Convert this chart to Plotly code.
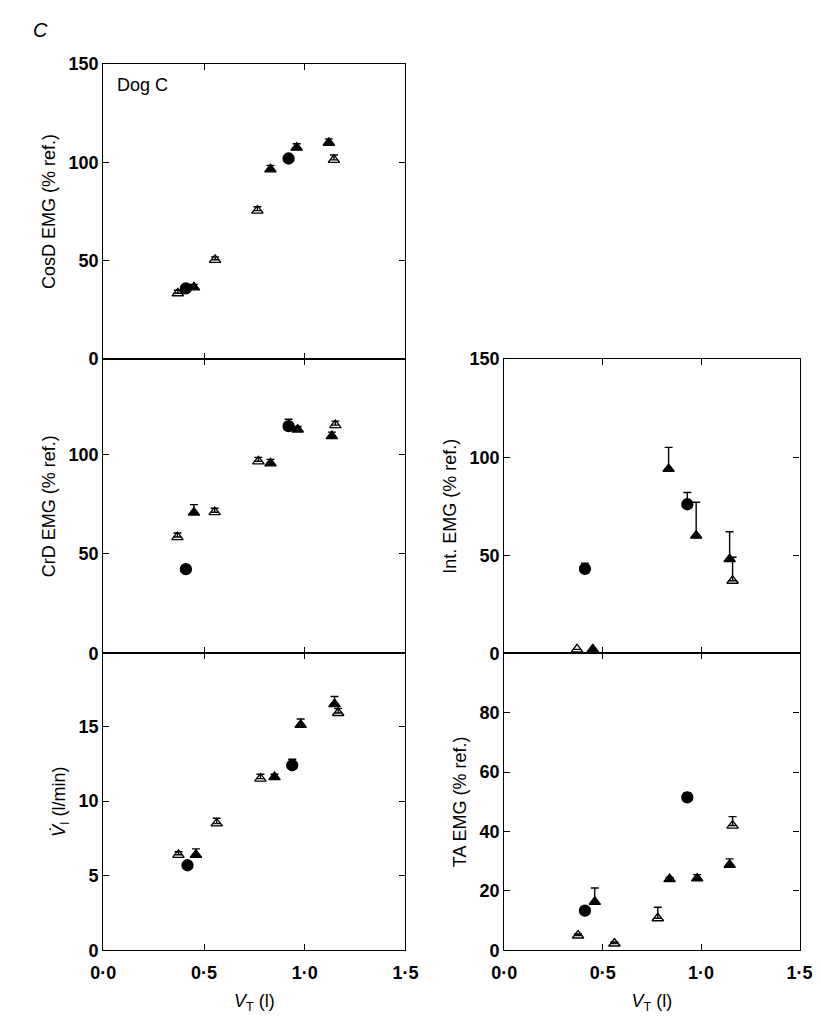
import plotly.graph_objects as go

# x = tidal volume VT (l); open triangles, filled triangles, filled circles
# each panel: (x, y, upper error)
cosd_open_x = [0.37, 0.555, 0.765, 1.145]
cosd_open_y = [33.5, 50.5, 75.5, 101.3]
cosd_open_e = [1.5, 1.5, 2.0, 2.5]
cosd_fill_x = [0.45, 0.83, 0.96, 1.12]
cosd_fill_y = [36.5, 96.5, 107.5, 110.0]
cosd_fill_e = [1.5, 2.0, 2.0, 2.0]
cosd_circ_x = [0.41, 0.92]
cosd_circ_y = [36.0, 102.0]
cosd_circ_e = [0, 0]

crd_open_x = [0.368, 0.553, 0.77, 1.152]
crd_open_y = [58.5, 71.0, 96.6, 114.8]
crd_open_e = [2.0, 2.0, 2.0, 2.0]
crd_fill_x = [0.45, 0.83, 0.965, 1.135]
crd_fill_y = [70.8, 95.6, 112.6, 109.3]
crd_fill_e = [4.0, 2.0, 1.5, 2.0]
crd_circ_x = [0.41, 0.92]
crd_circ_y = [42.3, 114.3]
crd_circ_e = [0, 3.5]

vi_open_x = [0.373, 0.563, 0.78, 1.166]
vi_open_y = [6.4, 8.5, 11.5, 15.9]
vi_open_e = [0.2, 0.35, 0.3, 0.3]
vi_fill_x = [0.46, 0.85, 0.98, 1.148]
vi_fill_y = [6.4, 11.6, 15.1, 16.5]
vi_fill_e = [0.4, 0.2, 0.4, 0.5]
vi_circ_x = [0.418, 0.938]
vi_circ_y = [5.7, 12.4]
vi_circ_e = [0, 0.4]

int_open_x = [0.37, 1.16]
int_open_y = [2.0, 37.0]
int_open_e = [0, 12.0]
int_fill_x = [0.45, 0.835, 0.975, 1.145]
int_fill_y = [2.0, 94.0, 60.0, 48.0]
int_fill_e = [0, 11.0, 17.0, 14.0]
int_circ_x = [0.41, 0.93]
int_circ_y = [43.0, 76.0]
int_circ_e = [3.0, 6.0]

ta_open_x = [0.375, 0.56, 0.78, 1.16]
ta_open_y = [5.0, 2.3, 10.8, 42.0]
ta_open_e = [0.5, 0.5, 3.7, 3.0]
ta_fill_x = [0.46, 0.84, 0.98, 1.145]
ta_fill_y = [16.3, 24.0, 24.2, 28.8]
ta_fill_e = [4.7, 0.5, 1.3, 2.0]
ta_circ_x = [0.41, 0.93]
ta_circ_y = [13.4, 51.5]
ta_circ_e = [0, 1.5]

x_ticks = [0, 0.5, 1.0, 1.5]
x_labels = ["<b>0·0</b>", "<b>0·5</b>", "<b>1·0</b>", "<b>1·5</b>"]

FONT = "Liberation Sans"
fig = go.Figure()

def add_set(xs, ys, es, symbol, ax):
    fig.add_trace(go.Scatter(
        x=xs, y=ys, mode="markers", xaxis=ax[0], yaxis=ax[1], showlegend=False,
        marker=dict(symbol=symbol, size=11 if "circle" in symbol else 10, color="black",
                    line=dict(color="black", width=1.3)),
        error_y=dict(type="data", symmetric=False, array=es, arrayminus=[0] * len(es),
                     color="black", thickness=1.4, width=4)))

panels = [
    (("x", "y"), cosd_open_x, cosd_open_y, cosd_open_e, cosd_fill_x, cosd_fill_y, cosd_fill_e,
     cosd_circ_x, cosd_circ_y, cosd_circ_e),
    (("x2", "y2"), crd_open_x, crd_open_y, crd_open_e, crd_fill_x, crd_fill_y, crd_fill_e,
     crd_circ_x, crd_circ_y, crd_circ_e),
    (("x3", "y3"), vi_open_x, vi_open_y, vi_open_e, vi_fill_x, vi_fill_y, vi_fill_e,
     vi_circ_x, vi_circ_y, vi_circ_e),
    (("x4", "y4"), int_open_x, int_open_y, int_open_e, int_fill_x, int_fill_y, int_fill_e,
     int_circ_x, int_circ_y, int_circ_e),
    (("x5", "y5"), ta_open_x, ta_open_y, ta_open_e, ta_fill_x, ta_fill_y, ta_fill_e,
     ta_circ_x, ta_circ_y, ta_circ_e),
]
for p in panels:
    ax = p[0]
    add_set(p[1], p[2], p[3], "triangle-up-open", ax)
    add_set(p[4], p[5], p[6], "triangle-up", ax)
    add_set(p[7], p[8], p[9], "circle", ax)

left = [85 / 821, 397 / 821]
right = [499 / 821, 804 / 821]
top = [1 - 348 / 1019, 1 - 47 / 1019]
mid = [1 - 648 / 1019, 1 - 348 / 1019]
bot = [1 - 951 / 1019, 1 - 648 / 1019]

axstyle = dict(showline=True, linecolor="black", linewidth=1.2, mirror="ticks", ticks="inside",
               ticklen=6, tickcolor="black", showgrid=False, zeroline=False,
               tickfont=dict(family=FONT, size=18, color="black"))
title_font = dict(family=FONT, size=18, color="black")

def xaxis(dom, anchor, labels):
    d = dict(axstyle, domain=dom, anchor=anchor, range=[0, 1.5], tickvals=x_ticks,
             ticktext=x_labels, showticklabels=labels, ticklabelstandoff=6)
    if labels:
        d["title"] = dict(text="<i>V</i><sub>T</sub> (l)", font=title_font, standoff=12)
    return d

def yaxis(dom, anchor, rng, tv, title):
    return dict(axstyle, domain=dom, anchor=anchor, range=rng, tickvals=tv,
                ticktext=["<b>%g</b>" % v for v in tv],
                title=dict(text=title, font=title_font, standoff=8))

fig.update_layout(
    width=821, height=1019, plot_bgcolor="white", paper_bgcolor="white",
    margin=dict(l=0, r=0, t=0, b=0),
    xaxis=xaxis(left, "y", False),
    yaxis=yaxis(top, "x", [0, 150], [0, 50, 100, 150], "CosD EMG (% ref.)"),
    xaxis2=xaxis(left, "y2", False),
    yaxis2=yaxis(mid, "x2", [0, 148], [0, 50, 100], "CrD EMG (% ref.)"),
    xaxis3=xaxis(left, "y3", True),
    yaxis3=yaxis(bot, "x3", [0, 19.9], [0, 5, 10, 15], "<i>V̇</i><sub>I</sub> (l/min)"),
    xaxis4=xaxis(right, "y4", False),
    yaxis4=yaxis(mid, "x4", [0, 150], [0, 50, 100, 150], "Int. EMG (% ref.)"),
    xaxis5=xaxis(right, "y5", True),
    yaxis5=yaxis(bot, "x5", [0, 100], [0, 20, 40, 60, 80], "TA EMG (% ref.)"),
    annotations=[
        dict(text="<i>C</i>", x=10 / 821, y=1 - 12 / 1019, xref="paper", yref="paper",
             xanchor="left", yanchor="middle", showarrow=False,
             font=dict(family=FONT, size=20, color="black")),
        dict(text="Dog C", x=97 / 821, y=1 - 68 / 1019, xref="paper", yref="paper",
             xanchor="left", yanchor="middle", showarrow=False,
             font=dict(family=FONT, size=18, color="black")),
    ],
)

fig.write_html("out.html")
